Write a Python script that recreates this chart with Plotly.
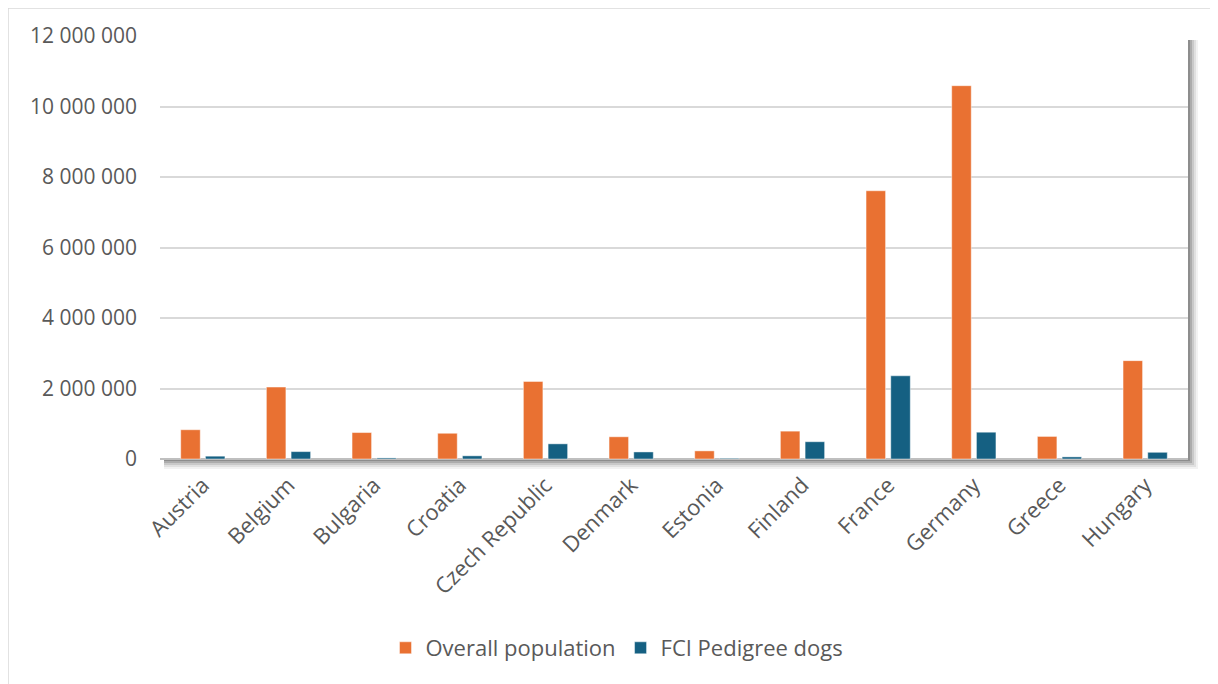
import plotly.graph_objects as go

countries = ["Austria", "Belgium", "Bulgaria", "Croatia", "Czech Republic", "Denmark",
             "Estonia", "Finland", "France", "Germany", "Greece", "Hungary"]
overall_population = [830000, 2040000, 750000, 730000, 2200000, 630000,
                      230000, 790000, 7610000, 10590000, 640000, 2790000]
fci_pedigree = [80000, 210000, 30000, 90000, 430000, 200000,
                20000, 490000, 2360000, 760000, 60000, 190000]
y_ticks = [0, 2000000, 4000000, 6000000, 8000000, 10000000, 12000000]

# page body has an 8px margin; figure is sized/positioned to compensate
OFF = 8
W, H = 1218 - OFF, 684 - OFF
L, R, T, B = 160, 1188, 36, 459   # plot area in window pixels
PW, PH = R - L, B - T

def px(x):
    return (x - L) / PW

def py(y):
    return (B - y) / PH

TXT = "#595959"
FONT = "Open Sans"

fig = go.Figure()
fig.add_trace(go.Bar(name="Overall population", x=countries, y=overall_population,
                     marker=dict(color="#E97132", line=dict(color="rgba(255,255,255,0.45)", width=1))))
fig.add_trace(go.Bar(name="FCI Pedigree dogs", x=countries, y=fci_pedigree,
                     marker=dict(color="#156082", line=dict(color="rgba(255,255,255,0.45)", width=1))))

shapes = []
# outer chart border
shapes.append(dict(type="rect", xref="paper", yref="paper", x0=px(8), x1=px(1213), y0=py(700), y1=py(8),
                   line=dict(color="#D9D9D9", width=1.5), fillcolor="rgba(0,0,0,0)", layer="below"))
# plot area shadow
for k, a in [(10, 0.05), (8, 0.07), (6, 0.10), (4, 0.14), (2, 0.18)]:
    shapes.append(dict(type="rect", xref="paper", yref="paper", x0=px(L + 4), x1=px(R + k),
                       y0=py(B + k), y1=py(T + 4), line=dict(width=0),
                       fillcolor=f"rgba(0,0,0,{a})", layer="below"))
shapes.append(dict(type="rect", xref="paper", yref="paper", x0=0, x1=1, y0=0, y1=1,
                   line=dict(width=0), fillcolor="white", layer="below"))

fig.update_layout(
    width=W, height=H,
    margin=dict(l=L - OFF, r=W - (R - OFF), t=T - OFF, b=H - (B - OFF), pad=0),
    paper_bgcolor="white", plot_bgcolor="rgba(0,0,0,0)",
    separators=". ",
    barmode="group", bargap=0.423, bargroupgap=0.21,
    font=dict(family=FONT, size=21, color=TXT),
    shapes=shapes,
    showlegend=True,
    legend=dict(orientation="h", x=px(617), xanchor="center", y=py(648), yanchor="middle",
                font=dict(family=FONT, size=22, color=TXT), itemwidth=30,
                bgcolor="rgba(0,0,0,0)", traceorder="normal"),
    xaxis=dict(tickangle=-45, showgrid=False, showline=False, ticks="",
               tickfont=dict(family=FONT, size=22, color=TXT), ticklabelstandoff=8),
    yaxis=dict(range=[0, 12000000], tickvals=y_ticks, tickformat=",d",
               showgrid=True, gridcolor="#D9D9D9", gridwidth=1.5,
               zeroline=True, zerolinecolor="#BFBFBF", zerolinewidth=1.5,
               showline=False, ticks="", ticklabelstandoff=22,
               tickfont=dict(family=FONT, size=21, color=TXT)),
)

fig.write_html("out.html")
